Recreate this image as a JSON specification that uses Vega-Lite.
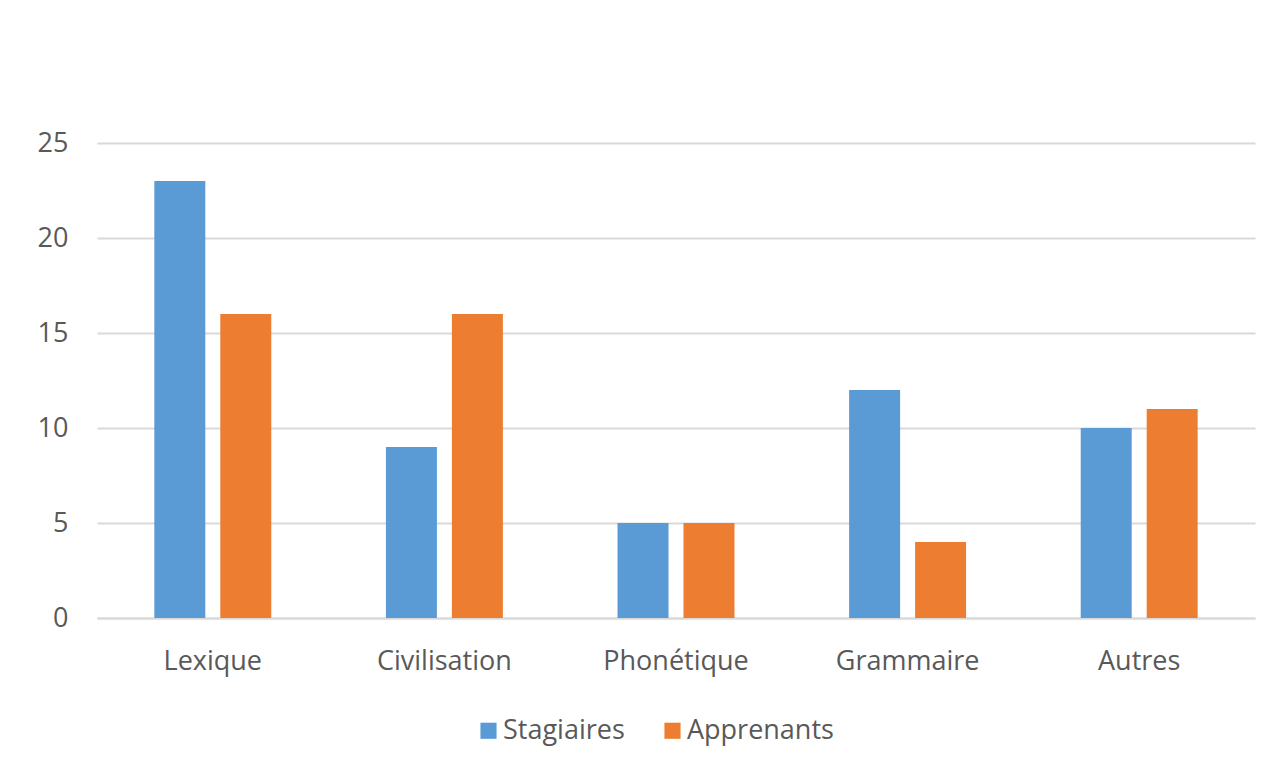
{
  "$schema": "https://vega.github.io/schema/vega-lite/v6.json",
  "width": 1158,
  "height": 475,
  "autosize": {"type": "none"},
  "padding": {"left": 97, "top": 143, "right": 27, "bottom": 156},
  "background": "white",
  "config": {
    "view": {"stroke": null},
    "font": "Open Sans",
    "axis": {"labelFont": "Open Sans", "labelColor": "#595959", "labelFontSize": 27, "titleFont": "Open Sans"},
    "legend": {"labelFont": "Open Sans", "labelColor": "#595959", "labelFontSize": 27}
  },
  "data": {
    "values": [
      {"categorie": "Lexique", "groupe": "Stagiaires", "valeur": 23},
      {"categorie": "Lexique", "groupe": "Apprenants", "valeur": 16},
      {"categorie": "Civilisation", "groupe": "Stagiaires", "valeur": 9},
      {"categorie": "Civilisation", "groupe": "Apprenants", "valeur": 16},
      {"categorie": "Phonétique", "groupe": "Stagiaires", "valeur": 5},
      {"categorie": "Phonétique", "groupe": "Apprenants", "valeur": 5},
      {"categorie": "Grammaire", "groupe": "Stagiaires", "valeur": 12},
      {"categorie": "Grammaire", "groupe": "Apprenants", "valeur": 4},
      {"categorie": "Autres", "groupe": "Stagiaires", "valeur": 10},
      {"categorie": "Autres", "groupe": "Apprenants", "valeur": 11}
    ]
  },
  "mark": {"type": "bar"},
  "encoding": {
    "x": {
      "field": "categorie", "type": "nominal",
      "sort": ["Lexique", "Civilisation", "Phonétique", "Grammaire", "Autres"],
      "scale": {"paddingInner": 0.495, "paddingOuter": 0.2475},
      "axis": {"title": null, "labelAngle": 0, "ticks": false, "domain": true, "domainColor": "#d9d9d9", "domainWidth": 2, "labelPadding": 30, "zindex": 0}
    },
    "xOffset": {
      "field": "groupe", "type": "nominal",
      "sort": ["Stagiaires", "Apprenants"],
      "scale": {"paddingInner": 0.227, "paddingOuter": 0}
    },
    "y": {
      "field": "valeur", "type": "quantitative",
      "scale": {"domain": [0, 25], "nice": false},
      "axis": {"title": null, "values": [0, 5, 10, 15, 20, 25], "ticks": false, "domain": false, "gridColor": "#d9d9d9", "gridWidth": 2, "labelPadding": 29}
    },
    "color": {
      "field": "groupe", "type": "nominal",
      "sort": ["Stagiaires", "Apprenants"],
      "scale": {"domain": ["Stagiaires", "Apprenants"], "range": ["#5B9BD5", "#ED7D31"]},
      "legend": {
        "title": null, "orient": "none", "direction": "horizontal",
        "legendX": 378, "legendY": 574,
        "symbolType": "square", "symbolSize": 260, "symbolStrokeWidth": 0,
        "columnPadding": 34, "labelOffset": 1
      }
    }
  }
}
